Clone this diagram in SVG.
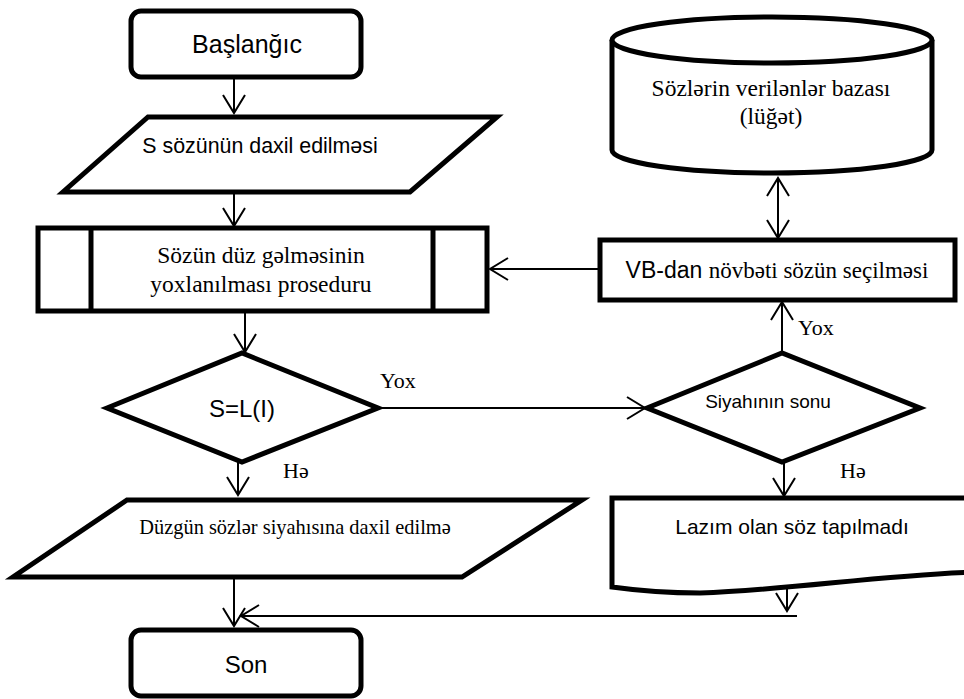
<svg xmlns="http://www.w3.org/2000/svg" width="964" height="699" viewBox="0 0 964 699">
<style>
.shape{fill:#fff;stroke:#000;stroke-width:5;stroke-linejoin:miter}
.conn{fill:none;stroke:#000;stroke-width:2}
.sans{font-family:"Liberation Sans","Open Sans",sans-serif;fill:#000}
.serif{font-family:"Liberation Serif","DejaVu Serif",serif;fill:#000}
.c{text-anchor:middle}
</style>
<defs>
<marker id="arr" markerUnits="userSpaceOnUse" markerWidth="24" markerHeight="26" refX="19" refY="12" orient="auto-start-reverse" viewBox="0 0 24 26">
<path d="M1,1 L19,12 L1,23" fill="none" stroke="#000" stroke-width="2"/>
</marker>
</defs>
<rect width="964" height="699" fill="#fff"/>

<g id="connectors">
<line class="conn" x1="234" y1="78" x2="234" y2="113" marker-end="url(#arr)"/>
<line class="conn" x1="234" y1="192" x2="234" y2="226" marker-end="url(#arr)"/>
<line class="conn" x1="245" y1="313" x2="245" y2="352" marker-end="url(#arr)"/>
<line class="conn" x1="378" y1="408" x2="645" y2="408" marker-end="url(#arr)"/>
<line class="conn" x1="782" y1="353" x2="782" y2="302" marker-end="url(#arr)"/>
<line class="conn" x1="778" y1="178" x2="778" y2="238" marker-start="url(#arr)" marker-end="url(#arr)"/>
<line class="conn" x1="600" y1="269" x2="490" y2="269" marker-end="url(#arr)"/>
<line class="conn" x1="238" y1="462" x2="238" y2="495" marker-end="url(#arr)"/>
<line class="conn" x1="784" y1="462" x2="784" y2="496" marker-end="url(#arr)"/>
<line class="conn" x1="234" y1="577" x2="234" y2="626" marker-end="url(#arr)"/>
<line class="conn" x1="787" y1="589" x2="787" y2="611" marker-end="url(#arr)"/>
<line class="conn" x1="797" y1="616" x2="241" y2="616" marker-end="url(#arr)"/>
<text class="serif" x="380" y="388" font-size="22">Yox</text>
<text class="serif" x="283" y="478" font-size="22">Hə</text>
<text class="serif" x="798" y="335" font-size="22">Yox</text>
<text class="serif" x="840" y="478" font-size="22">Hə</text>
</g>

<g id="start">
<rect class="shape" x="131" y="11" width="230" height="66" rx="10"/>
<text class="sans c" x="247" y="53" font-size="25">Başlanğıc</text>
</g>

<g id="input">
<polygon class="shape" points="148,117 497,117 410,192 63,192"/>
<text class="sans c" x="260" y="153" font-size="21.4">S sözünün daxil edilməsi</text>
</g>

<g id="procedure">
<rect class="shape" x="38" y="228" width="449" height="83"/>
<line class="shape" x1="91" y1="228" x2="91" y2="311"/>
<line class="shape" x1="433" y1="228" x2="433" y2="311"/>
<text class="serif c" x="261" y="263" font-size="23.5">Sözün düz gəlməsinin</text>
<text class="serif c" x="261" y="292" font-size="23.5">yoxlanılması proseduru</text>
</g>

<g id="decision1">
<polygon class="shape" points="107,408 242,353 378,408 242,462"/>
<text class="sans c" x="242" y="417" font-size="24">S=L(I)</text>
</g>

<g id="decision2">
<polygon class="shape" points="647,408 782,353 920,408 782,462"/>
<text class="sans c" x="768" y="408" font-size="19">Siyahının sonu</text>
</g>

<g id="database">
<path class="shape" d="M612,40 V150 A160,23 0 0 0 932,150 V40"/>
<ellipse class="shape" cx="772" cy="40" rx="160" ry="23"/>
<text class="serif c" x="771" y="96" font-size="23.5">Sözlərin verilənlər bazası</text>
<text class="serif c" x="771" y="124" font-size="23.5">(lüğət)</text>
</g>

<g id="select">
<rect class="shape" x="600" y="240" width="355" height="60"/>
<text class="c" x="777" y="278" font-size="23"><tspan class="sans">VB-dan </tspan><tspan class="serif">növbəti sözün seçilməsi</tspan></text>
</g>

<g id="output">
<polygon class="shape" points="127,500 582,500 462,577 13,577"/>
<text class="serif c" x="295" y="534" font-size="20.4">Düzgün sözlər siyahısına daxil edilmə</text>
</g>

<g id="notfound">
<path class="shape" d="M975,498 H612 V587 Q655,593 700,593 C790,590 880,575 975,572 Z"/>
<text class="sans c" x="792" y="534" font-size="21">Lazım olan söz tapılmadı</text>
</g>

<g id="end">
<rect class="shape" x="131" y="630" width="230" height="66" rx="10"/>
<text class="sans c" x="246" y="673" font-size="24">Son</text>
</g>
</svg>
